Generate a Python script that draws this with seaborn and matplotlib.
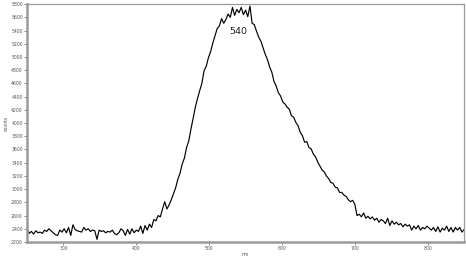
import numpy as np
import pandas as pd
import matplotlib
matplotlib.use("Agg")
import matplotlib.pyplot as plt
import seaborn as sns

base_counts = [2400, 2330, 2360, 2320, 2370, 2340, 2350, 2330, 2380, 2360,
               2400, 2370, 2340, 2310, 2300, 2380, 2350, 2400, 2340, 2420,
               2300, 2460, 2390, 2370, 2360, 2350, 2420, 2380, 2400, 2360,
               2380, 2370, 2240, 2380, 2360, 2370, 2340, 2360, 2350, 2380,
               2330, 2310, 2340, 2400, 2370, 2300, 2390, 2320, 2400, 2340,
               2380, 2360, 2440, 2330, 2450, 2380, 2470]
peak_counts = [2420, 2540, 2520, 2600, 2580, 2700, 2810, 2700, 2760, 2840,
               2930, 3020, 3150, 3240, 3380, 3470, 3630, 3730, 3910, 4070,
               4240, 4370, 4490, 4600, 4790, 4860, 4990, 5080, 5210, 5320,
               5430, 5470, 5580, 5510, 5570, 5650, 5600, 5750, 5630, 5720,
               5670, 5750, 5640, 5710, 5610, 5770, 5510, 5490, 5390, 5300,
               5240, 5140, 5040, 4960, 4850, 4770, 4630, 4560, 4460, 4410,
               4320, 4290, 4240, 4210, 4110, 4090, 4010, 3960, 3860, 3810,
               3710, 3720, 3630, 3610, 3530, 3490, 3410, 3350, 3290, 3260,
               3200, 3160, 3100, 3090, 3030, 3020, 2950, 2950, 2910, 2890,
               2840, 2810, 2830, 2770]
tail_counts = [2600, 2620, 2580, 2640, 2560, 2590, 2550, 2580, 2530, 2560,
               2500, 2540, 2520, 2480, 2560, 2450, 2520, 2470, 2500, 2460,
               2480, 2430, 2470, 2440, 2460, 2380, 2440, 2400, 2450, 2380,
               2420, 2400, 2440, 2410, 2380, 2420, 2360, 2430, 2350, 2410,
               2380, 2440, 2360, 2420, 2350, 2420, 2380, 2420, 2350, 2390]

counts = base_counts + peak_counts + tail_counts
wavelength = np.arange(250, 250 + 3 * len(counts), 3)
df = pd.DataFrame({"nm": wavelength, "counts": counts})

x_ticks = [300, 400, 500, 600, 700, 800]
y_ticks = list(range(2200, 5801, 200))

sns.set_style("white")
fig = plt.figure(figsize=(4.66, 2.58), dpi=100)
ax = fig.add_axes([0.058, 0.062, 0.938, 0.922])

sns.lineplot(data=df, x="nm", y="counts", color="black", linewidth=0.85, ax=ax)

ax.set_xlim(250, 850)
ax.set_ylim(2200, 5800)
ax.set_xticks(x_ticks)
ax.set_yticks(y_ticks)
ax.tick_params(axis="both", labelsize=3.3, labelcolor="#555555", length=2,
               width=0.6, color="#777777", pad=1, direction="out",
               bottom=True, left=True)
ax.set_xlabel("nm", fontsize=3.3, color="#555555", labelpad=0.5)
ax.set_ylabel("counts", fontsize=3.3, color="#555555", labelpad=2)

for side in ["left", "bottom"]:
    ax.spines[side].set_color("#9a9a9a")
    ax.spines[side].set_linewidth(1.8)
for side in ["top", "right"]:
    ax.spines[side].set_color("#9a9a9a")
    ax.spines[side].set_linewidth(0.9)

ax.text(540, 5390, "540", fontsize=6.8, ha="center", va="center", color="#222222")

fig.savefig("out.png", dpi=100)
